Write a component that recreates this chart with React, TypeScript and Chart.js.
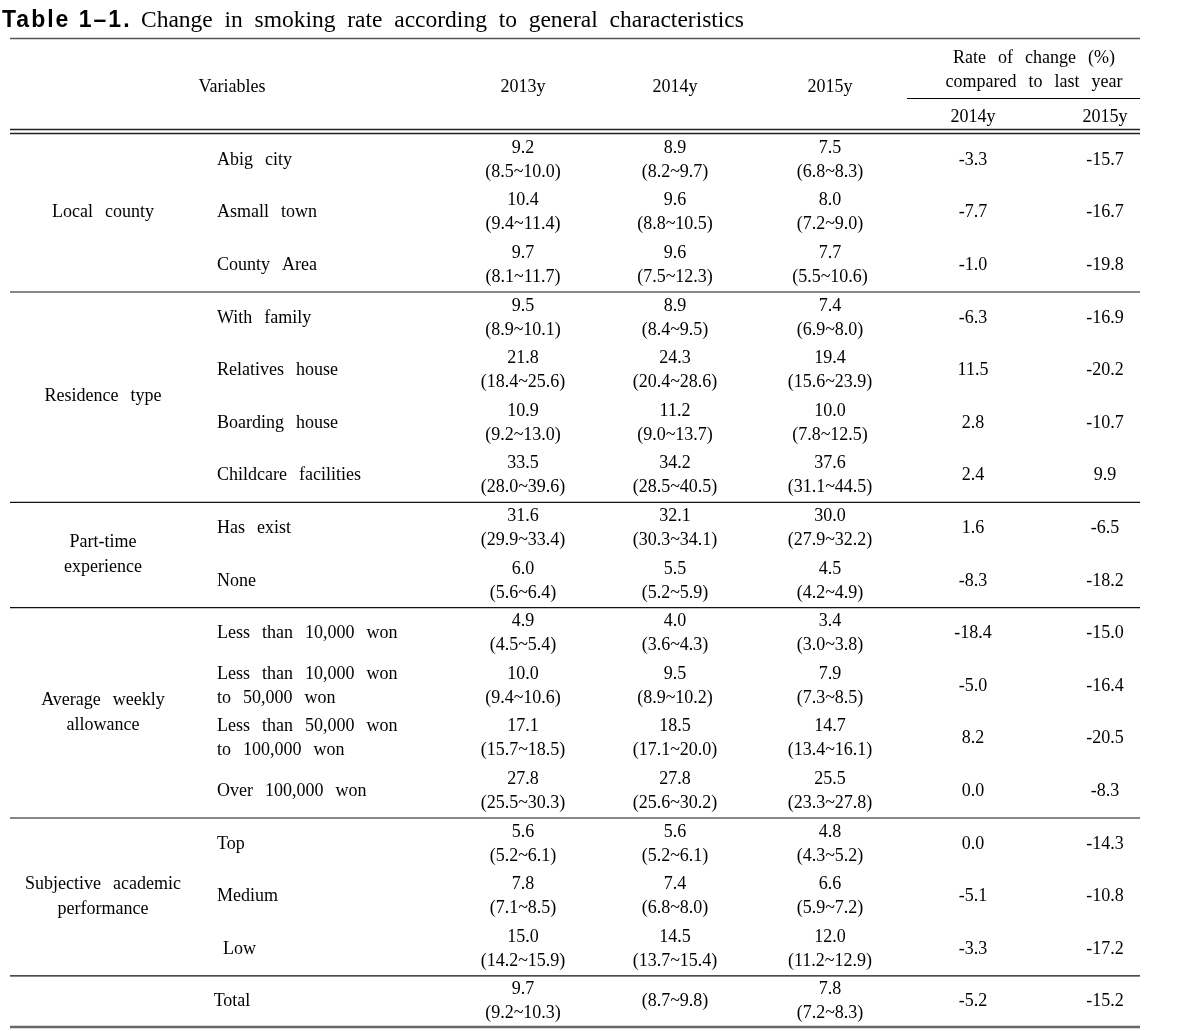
import React, { useEffect, useRef } from "react";
import { Chart, registerables } from "chart.js";

Chart.register(...registerables);

// ---------- data ----------
const groupLabels = [
  ["Local  county"],
  ["Residence  type"],
  ["Part-time", "experience"],
  ["Average  weekly", "allowance"],
  ["Subjective  academic", "performance"],
];
const groupSizes = [3, 4, 2, 4, 3];

const rowLabels = [
  ["Abig  city"],
  ["Asmall  town"],
  ["County  Area"],
  ["With  family"],
  ["Relatives  house"],
  ["Boarding  house"],
  ["Childcare  facilities"],
  ["Has  exist"],
  ["None"],
  ["Less  than  10,000  won"],
  ["Less  than  10,000  won", "to  50,000  won"],
  ["Less  than  50,000  won", "to  100,000  won"],
  ["Over  100,000  won"],
  ["Top"],
  ["Medium"],
  [" Low"],
];
const totalLabel = "Total";

const val2013 = [9.2, 10.4, 9.7, 9.5, 21.8, 10.9, 33.5, 31.6, 6.0, 4.9, 10.0, 17.1, 27.8, 5.6, 7.8, 15.0, 9.7];
const lo2013 = [8.5, 9.4, 8.1, 8.9, 18.4, 9.2, 28.0, 29.9, 5.6, 4.5, 9.4, 15.7, 25.5, 5.2, 7.1, 14.2, 9.2];
const hi2013 = [10.0, 11.4, 11.7, 10.1, 25.6, 13.0, 39.6, 33.4, 6.4, 5.4, 10.6, 18.5, 30.3, 6.1, 8.5, 15.9, 10.3];

const val2014: (number | null)[] = [8.9, 9.6, 9.6, 8.9, 24.3, 11.2, 34.2, 32.1, 5.5, 4.0, 9.5, 18.5, 27.8, 5.6, 7.4, 14.5, null];
const lo2014 = [8.2, 8.8, 7.5, 8.4, 20.4, 9.0, 28.5, 30.3, 5.2, 3.6, 8.9, 17.1, 25.6, 5.2, 6.8, 13.7, 8.7];
const hi2014 = [9.7, 10.5, 12.3, 9.5, 28.6, 13.7, 40.5, 34.1, 5.9, 4.3, 10.2, 20.0, 30.2, 6.1, 8.0, 15.4, 9.8];

const val2015 = [7.5, 8.0, 7.7, 7.4, 19.4, 10.0, 37.6, 30.0, 4.5, 3.4, 7.9, 14.7, 25.5, 4.8, 6.6, 12.0, 7.8];
const lo2015 = [6.8, 7.2, 5.5, 6.9, 15.6, 7.8, 31.1, 27.9, 4.2, 3.0, 7.3, 13.4, 23.3, 4.3, 5.9, 11.2, 7.2];
const hi2015 = [8.3, 9.0, 10.6, 8.0, 23.9, 12.5, 44.5, 32.2, 4.9, 3.8, 8.5, 16.1, 27.8, 5.2, 7.2, 12.9, 8.3];

const rate2014 = [-3.3, -7.7, -1.0, -6.3, 11.5, 2.8, 2.4, 1.6, -8.3, -18.4, -5.0, 8.2, 0.0, 0.0, -5.1, -3.3, -5.2];
const rate2015 = [-15.7, -16.7, -19.8, -16.9, -20.2, -10.7, 9.9, -6.5, -18.2, -15.0, -16.4, -20.5, -8.3, -14.3, -10.8, -17.2, -15.2];

const yearHeaders = ["2013y", "2014y", "2015y"];
const rateHeader = ["Rate  of  change  (%)", "compared  to  last  year"];
const titleBold = "Table 1\u20131.";
const titleText = "Change  in  smoking  rate  according  to  general  characteristics";

// ---------- layout ----------
const W = 1187;
const H = 1031;
const FONT = '18px "Liberation Serif", "Times New Roman", serif';
const ROW0 = 160;
const ROWH = 52.6;
const LINE_OFF = 12;
const COL = { group: 103, label: 217, varHead: 232, y13: 523, y14: 675, y15: 830, r14: 973, r15: 1105, rateHead: 1034 };
const TABLE_L = 10;
const TABLE_R = 1140;

const rowY = (i: number) => ROW0 + ROWH * i;
const fmt = (v: number) => v.toFixed(1);

export default function App() {
  const ref = useRef<HTMLCanvasElement | null>(null);

  useEffect(() => {
    if (!ref.current) return;
    const n = val2013.length;
    const mk = (x: number) => Array.from({ length: n }, (_, i) => ({ x, y: rowY(i) }));

    const tablePlugin = {
      id: "tablePlugin",
      afterDatasetsDraw(chart: any) {
        const ctx = chart.ctx as any;
        const xs = chart.scales.x;
        const ys = chart.scales.y;
        const px = (v: number) => xs.getPixelForValue(v);
        const py = (v: number) => ys.getPixelForValue(v);
        ctx.save();
        ctx.fillStyle = "#000";
        ctx.textBaseline = "middle";

        const text = (s: string, x: number, y: number, align: CanvasTextAlign = "center", font = FONT, ws = "1.5px") => {
          ctx.font = font;
          ctx.textAlign = align;
          ctx.wordSpacing = ws;
          ctx.fillText(s, px(x), py(y));
          ctx.wordSpacing = "0px";
        };
        const hline = (x1: number, x2: number, y: number, w: number, color: string) => {
          ctx.beginPath();
          ctx.strokeStyle = color;
          ctx.lineWidth = w;
          ctx.moveTo(px(x1), py(y));
          ctx.lineTo(px(x2), py(y));
          ctx.stroke();
        };

        // title
        ctx.textBaseline = "alphabetic";
        ctx.font = 'bold 23px "Liberation Sans", Arial, sans-serif';
        ctx.textAlign = "left";
        ctx.letterSpacing = "2px";
        ctx.fillText(titleBold, px(2), py(27));
        ctx.letterSpacing = "0px";
        ctx.font = '23.5px "Liberation Serif", serif';
        ctx.fillText(titleText, px(141), py(27));
        ctx.textBaseline = "middle";

        // header
        hline(TABLE_L, TABLE_R, 38.5, 1.5, "#555");
        text("Variables", COL.varHead, 87);
        text(yearHeaders[0], COL.y13, 87);
        text(yearHeaders[1], COL.y14, 87);
        text(yearHeaders[2], COL.y15, 87);
        text(rateHeader[0], COL.rateHead, 58);
        text(rateHeader[1], COL.rateHead, 82);
        hline(907, TABLE_R, 98.5, 1.2, "#000");
        text(yearHeaders[1], COL.r14, 117);
        text(yearHeaders[2], COL.r15, 117);
        hline(TABLE_L, TABLE_R, 129.5, 1.5, "#222");
        hline(TABLE_L, TABLE_R, 133.5, 1.5, "#222");

        // group labels and separators
        let start = 0;
        groupSizes.forEach((sz, g) => {
          const c = (rowY(start) + rowY(start + sz - 1)) / 2;
          const lines = groupLabels[g];
          lines.forEach((s, k) => text(s, COL.group, c + (k - (lines.length - 1) / 2) * 25));
          start += sz;
          hline(TABLE_L, TABLE_R, rowY(start) - ROWH / 2 + 0.5, 1.2, "#111");
        });

        // row labels
        rowLabels.forEach((lines, i) => {
          lines.forEach((s, k) => text(s, COL.label, rowY(i) + (k - (lines.length - 1) / 2) * 24, "left", FONT, "1.5px"));
        });
        text(totalLabel, COL.varHead, rowY(n - 1));

        // value cells (positions from dataset elements)
        const cols = [
          { v: val2013, lo: lo2013, hi: hi2013 },
          { v: val2014, lo: lo2014, hi: hi2014 },
          { v: val2015, lo: lo2015, hi: hi2015 },
        ];
        ctx.font = FONT;
        ctx.textAlign = "center";
        cols.forEach((c, d) => {
          const meta = chart.getDatasetMeta(d);
          meta.data.forEach((el: any, i: number) => {
            const v = c.v[i];
            const ci = "(" + fmt(c.lo[i]) + "~" + fmt(c.hi[i]) + ")";
            if (v === null || v === undefined) {
              ctx.fillText(ci, el.x, el.y);
            } else {
              ctx.fillText(fmt(v), el.x, el.y - LINE_OFF);
              ctx.fillText(ci, el.x, el.y + LINE_OFF);
            }
          });
        });
        [rate2014, rate2015].forEach((r, k) => {
          const meta = chart.getDatasetMeta(3 + k);
          meta.data.forEach((el: any, i: number) => {
            ctx.fillText(fmt(r[i]), el.x, el.y);
          });
        });

        hline(TABLE_L, TABLE_R, 1027, 2.5, "#666");
        ctx.restore();
      },
    };

    const chart = new Chart(ref.current, {
      type: "scatter",
      data: {
        datasets: [
          { data: mk(COL.y13), pointRadius: 0 },
          { data: mk(COL.y14), pointRadius: 0 },
          { data: mk(COL.y15), pointRadius: 0 },
          { data: mk(COL.r14), pointRadius: 0 },
          { data: mk(COL.r15), pointRadius: 0 },
        ],
      },
      options: {
        responsive: false,
        maintainAspectRatio: false,
        animation: false,
        events: [],
        layout: { padding: 0 },
        plugins: { legend: { display: false }, tooltip: { enabled: false } },
        scales: {
          x: { type: "linear", min: 0, max: W, display: false },
          y: { type: "linear", min: 0, max: H, reverse: true, display: false },
        },
      },
      plugins: [tablePlugin],
    });
    return () => chart.destroy();
  }, []);

  return (
    <div style={{ position: "absolute", left: 0, top: 0, width: W, height: H, background: "#fff" }}>
      <canvas ref={ref} width={W} height={H} style={{ display: "block", width: W, height: H }} />
    </div>
  );
}
